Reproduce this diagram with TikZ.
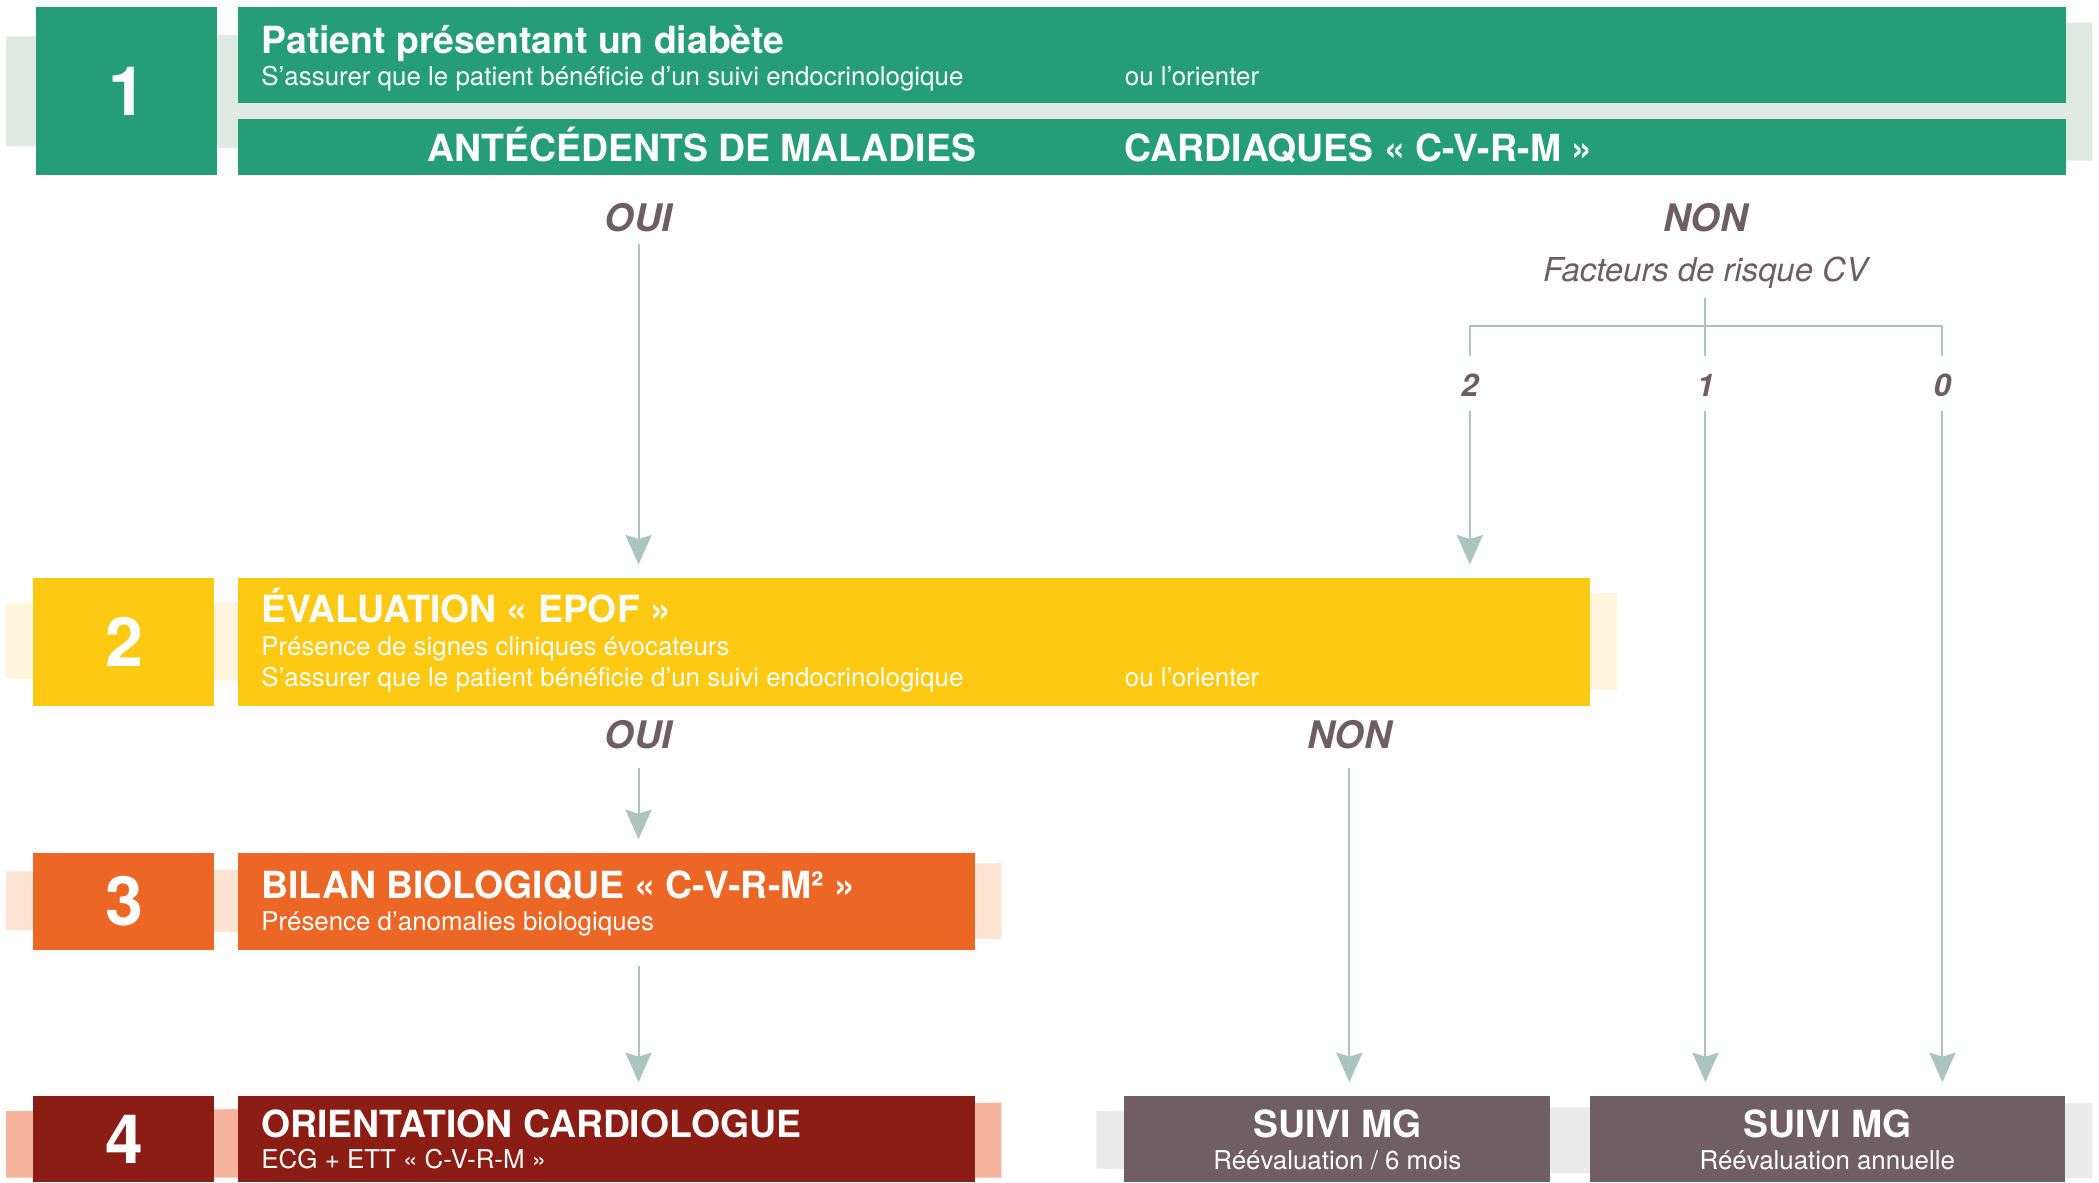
\documentclass[tikz,border=0pt]{standalone}
\usepackage{fontspec}
\setmainfont{TeX Gyre Heros}
\usetikzlibrary{arrows.meta,fit}
\definecolor{cgreen}{RGB}{37,158,119}
\definecolor{bgreen}{RGB}{224,234,228}
\definecolor{cyellow}{RGB}{254,201,19}
\definecolor{byellow}{RGB}{255,245,220}
\definecolor{corange}{RGB}{236,102,37}
\definecolor{borange}{RGB}{253,227,210}
\definecolor{cred}{RGB}{139,29,20}
\definecolor{bred}{RGB}{245,180,155}
\definecolor{cmauve}{RGB}{111,94,99}
\definecolor{bgray}{RGB}{235,235,235}
\definecolor{ctext}{RGB}{110,93,99}
\definecolor{carrow}{RGB}{171,196,190}
\newcommand\myttl{\bfseries\fontsize{16.75}{18}\selectfont}
\newcommand\mysub{\fontsize{11.6}{13}\selectfont}
\newcommand\mynum{\bfseries\fontsize{30.5}{32}\selectfont}
\newcommand\mylbl{\bfseries\itshape\fontsize{17}{19}\selectfont}
\newcommand\mydig{\bfseries\itshape\fontsize{14}{15}\selectfont}
\newcommand\myfact{\itshape\fontsize{14.75}{16}\selectfont}
\tikzset{
  box/.style={inner sep=0pt, draw=none},
  num/.style={inner sep=0pt, text=white, font=\mynum},
  ttl/.style={anchor=base west, inner sep=0pt, text=white, font=\myttl},
  ttlc/.style={anchor=base, inner sep=0pt, text=white, font=\myttl},
  sub/.style={anchor=base west, inner sep=0pt, text=white, font=\mysub},
  subc/.style={anchor=base, inner sep=0pt, text=white, font=\mysub},
  lbl/.style={anchor=base, inner sep=0pt, text=ctext, font=\mylbl},
  dig/.style={anchor=base, inner sep=0pt, text=ctext, font=\mydig, text height=17.7pt, text depth=6.48pt},
  conn/.style={draw=carrow, line width=0.9pt, -{Stealth[width=11.7pt, length=13.2pt, inset=1.8pt]}, shorten >=6pt},
  tree/.style={draw=carrow, line width=0.9pt},
}
\begin{document}
\begin{tikzpicture}[x=0.6pt, y=-0.6pt]
\useasboundingbox (0,0) rectangle (1568,883);
\fill[white] (0,0) rectangle (1568,883);
% background bands
\fill[bgreen] (4.5,27.2) -- (1563,16.7) -- (1563,120) -- (4.5,109.3) -- cycle;
\fill[byellow] (4.5,451) -- (1208,443) -- (1208,515.4) -- (4.5,507) -- cycle;
\fill[borange] (4.5,651) -- (748,645) -- (748,701.5) -- (4.5,694.7) -- cycle;
\fill[bred] (4.5,830) -- (748,823.7) -- (748,879.7) -- (4.5,879.7) -- cycle;
\fill[bgray] (819,830) -- (1563,824) -- (1563,880) -- (819,873) -- cycle;
% boxes
\node[box, fill=cgreen, fit={(27,5)(162,131)}] (n1) {};
\node[box, fill=cgreen, fit={(178,5)(1543,77)}] (pat) {};
\node[box, fill=cgreen, fit={(178,89)(1543,131)}] (ant) {};
\node[box, fill=cyellow, fit={(24.7,432)(159.7,527.5)}] (n2) {};
\node[box, fill=cyellow, fit={(178,432)(1188,527.5)}] (eval) {};
\node[box, fill=corange, fit={(24.5,637.2)(160,709.4)}] (n3) {};
\node[box, fill=corange, fit={(178,637.2)(728,709.4)}] (bilan) {};
\node[box, fill=cred, fit={(24.5,818.7)(160,883)}] (n4) {};
\node[box, fill=cred, fit={(178,818.7)(728,883)}] (orient) {};
\node[box, fill=cmauve, fit={(840,818.7)(1158,883)}] (suivi1) {};
\node[box, fill=cmauve, fit={(1188,818.7)(1542.5,883)}] (suivi2) {};
% numbers
\node[num] (t1) at ([xshift=0.6pt]n1.center) {1};
\node[num] (t2) at ([xshift=0.6pt]n2.center) {2};
\node[num] (t3) at ([xshift=0.6pt]n3.center) {3};
\node[num] (t4) at ([xshift=0.6pt]n4.center) {4};
% texts row 1
\node[ttl] (pat1) at (195,40) {Patient présentant un diabète};
\node[sub] (pat2) at (195,63.5) {S’assurer que le patient bénéficie d’un suivi endocrinologique};
\node[sub] (pat3) at (840,63.5) {ou l’orienter};
\node[ttl] (ant1) at (319,121) {ANTÉCÉDENTS DE MALADIES};
\node[ttl] (ant2) at (840,121) {CARDIAQUES « C-V-R-M »};
% texts row 2
\node[ttl] (ev1) at (195,465) {ÉVALUATION « EPOF »};
\node[sub] (ev2) at (195,490) {Présence de signes cliniques évocateurs};
\node[sub] (ev3) at (195,513) {S’assurer que le patient bénéficie d’un suivi endocrinologique};
\node[sub] (ev4) at (840,513) {ou l’orienter};
% texts row 3
\node[ttl] (bi1) at (195,671) {BILAN BIOLOGIQUE « C-V-R-M² »};
\node[sub] (bi2) at (195,695) {Présence d’anomalies biologiques};
% texts row 4
\node[ttl] (or1) at (195,850) {ORIENTATION CARDIOLOGUE};
\node[sub] (or2) at (195,873) {ECG + ETT « C-V-R-M »};
\node[ttlc] (s11) at (999,849.5) {SUIVI MG};
\node[subc] (s12) at (999,873.5) {Réévaluation / 6 mois};
\node[ttlc] (s21) at (1365,849.5) {SUIVI MG};
\node[subc] (s22) at (1365,873.5) {Réévaluation annuelle};
% labels
\node[lbl, text depth=5.4pt] (oui1) at (477,173) {OUI};
\node[lbl] (non1) at (1274,173) {NON};
\node[anchor=base, inner sep=0pt, text=ctext, font=\myfact, text depth=6.96pt] (fact) at (1274,210.4) {Facteurs de risque CV};
\node[dig] (d2) at (1098,296) {2};
\node[dig] (d1) at (1274,296) {1};
\node[dig] (d0) at (1451,296) {0};
\node[lbl, text depth=8.1pt] (oui2) at (477,559.5) {OUI};
\node[lbl, text depth=8.1pt] (non2) at (1008,559.5) {NON};
% tree
\coordinate (br) at (1274,243.3);
\draw[tree] (fact.south) -- (d1.north);
\draw[tree] (d2.north) |- (br) -| (d0.north);
% connectors
\draw[conn] (oui1.south) -- (oui1.south |- eval.north);
\draw[conn] (d2.south) -- (d2.south |- eval.north);
\draw[conn] (d1.south) -- (d1.south |- suivi2.north);
\draw[conn] (d0.south) -- (d0.south |- suivi2.north);
\draw[conn] (oui2.south) -- (oui2.south |- bilan.north);
\draw[conn] (non2.south) -- (non2.south |- suivi1.north);
\draw[conn, shorten <=6.96pt] (bilan.south -| oui2.south) -- (oui2.south |- orient.north);
\end{tikzpicture}
\end{document}
